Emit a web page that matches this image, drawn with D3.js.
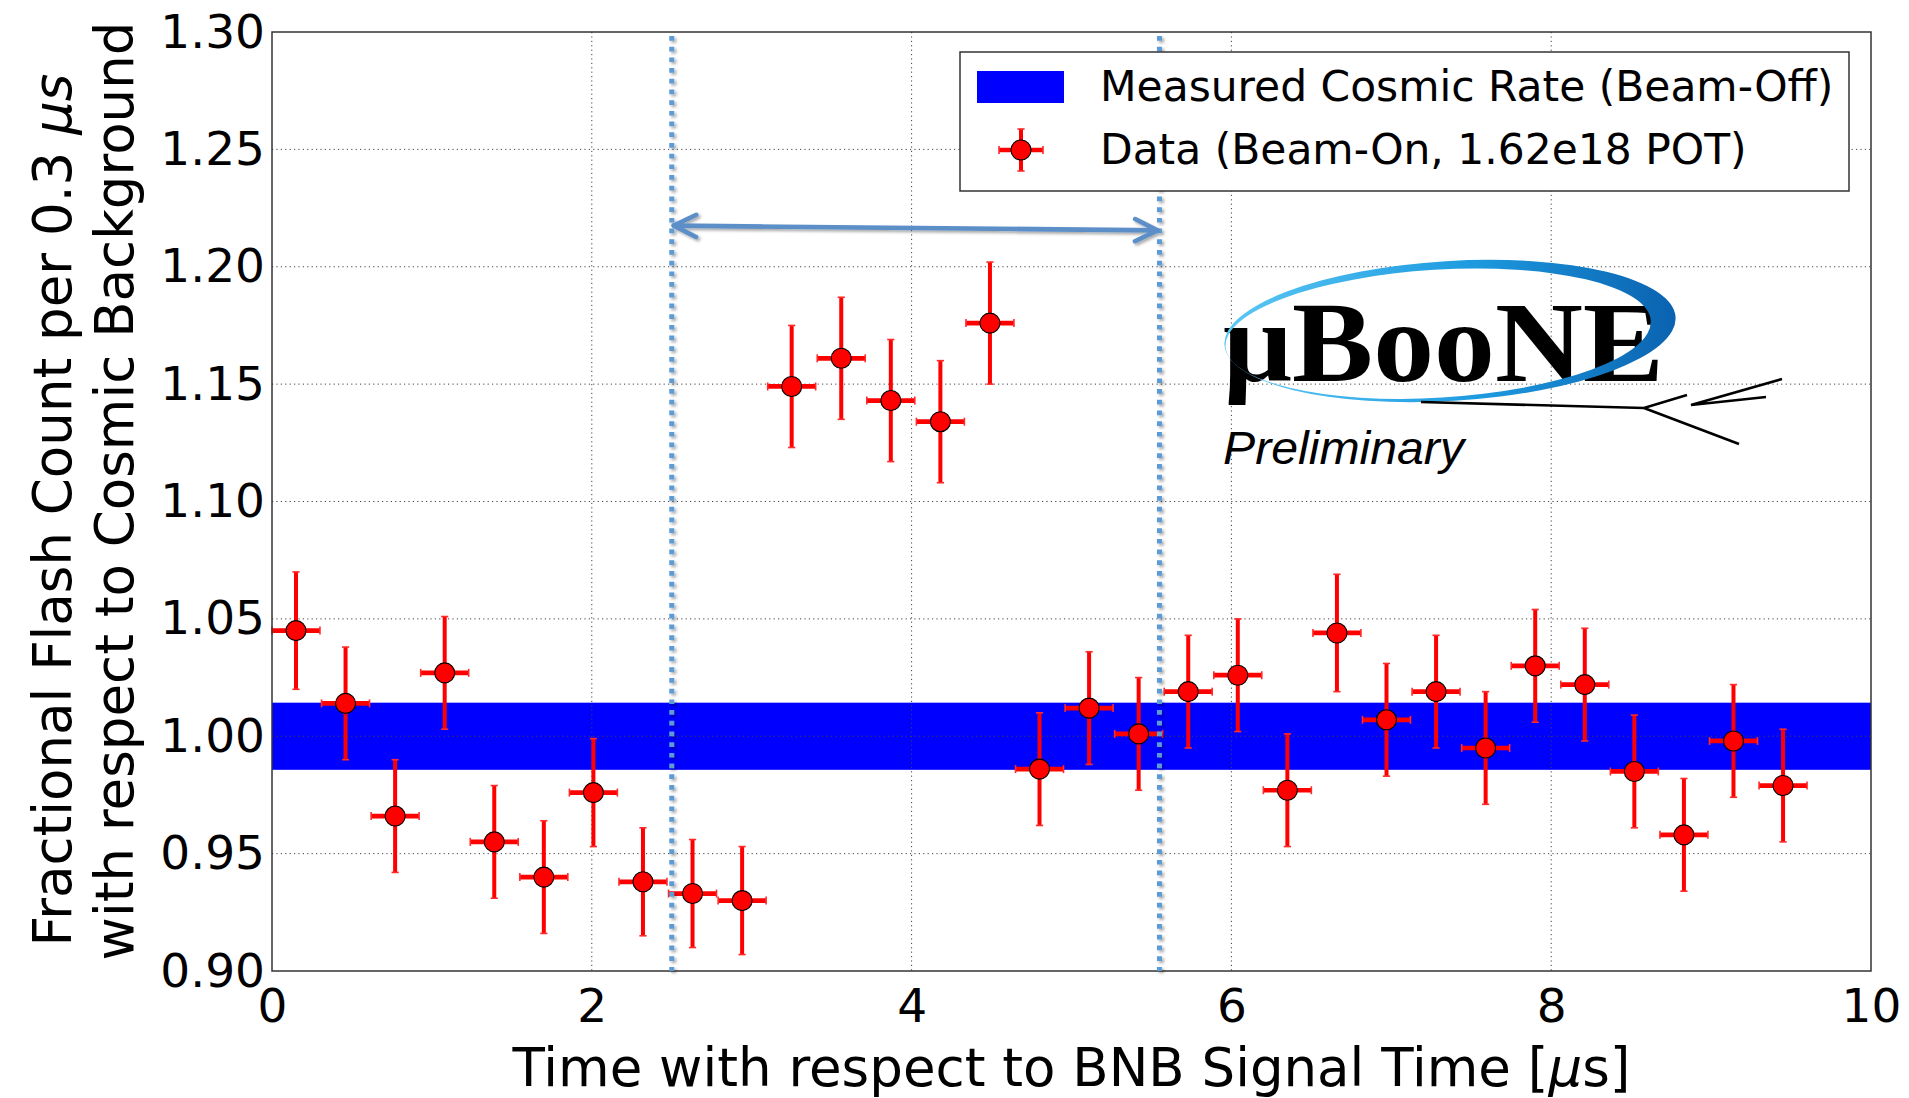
<!DOCTYPE html>
<html>
<head>
<meta charset="utf-8">
<script src="https://cdn.jsdelivr.net/npm/d3@7"></script>
<style>
  body { margin: 0; background: #fff; }
  svg { display: block; font-family: "DejaVu Sans", sans-serif; }
</style>
</head>
<body>
<svg id="chart"></svg>
<script>
// data
const timeUs = [0.15, 0.46, 0.77, 1.08, 1.39, 1.70, 2.01, 2.32, 2.63, 2.94,
                3.25, 3.56, 3.87, 4.18, 4.49, 4.80, 5.11, 5.42, 5.73, 6.04,
                6.35, 6.66, 6.97, 7.28, 7.59, 7.90, 8.21, 8.52, 8.83, 9.14, 9.45];
const flashRatio = [1.045, 1.014, 0.966, 1.027, 0.955, 0.940, 0.976, 0.938, 0.933, 0.930,
                    1.149, 1.161, 1.143, 1.134, 1.176, 0.986, 1.012, 1.001, 1.019, 1.026,
                    0.977, 1.044, 1.007, 1.019, 0.995, 1.030, 1.022, 0.985, 0.958, 0.998, 0.979];
const ratioErr = [0.025, 0.024, 0.024, 0.024, 0.024, 0.024, 0.023, 0.023, 0.023, 0.023,
                  0.026, 0.026, 0.026, 0.026, 0.026, 0.024, 0.024, 0.024, 0.024, 0.024,
                  0.024, 0.025, 0.024, 0.024, 0.024, 0.024, 0.024, 0.024, 0.024, 0.024, 0.024];
const binHalfWidth = 0.15;
const cosmicBand = [0.9857, 1.0143];
const windowEdges = [2.5, 5.55];
const windowArrowY = [1.2175, 1.2155];
const xTicks = [0, 2, 4, 6, 8, 10];
const yTicks = [0.90, 0.95, 1.00, 1.05, 1.10, 1.15, 1.20, 1.25, 1.30];
const legendLabels = ["Measured Cosmic Rate (Beam-Off)", "Data (Beam-On, 1.62e18 POT)"];

const width = 1909, height = 1098;
const margin = {top: 32, right: 38, bottom: 127, left: 272};
const innerW = width - margin.left - margin.right;
const innerH = height - margin.top - margin.bottom;

const svg = d3.select("#chart").attr("width", width).attr("height", height);

const defs = svg.append("defs");
defs.append("filter").attr("id", "shadow")
    .attr("x", "-20%").attr("y", "-20%").attr("width", "140%").attr("height", "140%")
  .append("feDropShadow")
    .attr("dx", 2).attr("dy", 2).attr("stdDeviation", 1.8)
    .attr("flood-color", "#000").attr("flood-opacity", 0.35);
const grad = defs.append("linearGradient").attr("id", "swoosh")
    .attr("x1", "0%").attr("x2", "100%").attr("y1", "0%").attr("y2", "0%");
grad.append("stop").attr("offset", "0%").attr("stop-color", "#5cc8f5");
grad.append("stop").attr("offset", "55%").attr("stop-color", "#1e9be0");
grad.append("stop").attr("offset", "100%").attr("stop-color", "#0a62b0");

const x = d3.scaleLinear().domain([0, 10]).range([0, innerW]);
const y = d3.scaleLinear().domain([0.9, 1.3]).range([innerH, 0]);

const g = svg.append("g").attr("transform", `translate(${margin.left},${margin.top})`);

// cosmic band
g.append("rect")
    .attr("x", x(0)).attr("width", x(10) - x(0))
    .attr("y", y(cosmicBand[1])).attr("height", y(cosmicBand[0]) - y(cosmicBand[1]))
    .attr("fill", "#0000ff");

// grid
g.append("g").selectAll("line").data(xTicks.slice(1, -1)).join("line")
    .attr("x1", d => x(d)).attr("x2", d => x(d)).attr("y1", 0).attr("y2", innerH)
    .attr("stroke", "#444").attr("stroke-width", 1).attr("stroke-dasharray", "1.2,3.2");
g.append("g").selectAll("line").data(yTicks.slice(1, -1)).join("line")
    .attr("y1", d => y(d)).attr("y2", d => y(d)).attr("x1", 0).attr("x2", innerW)
    .attr("stroke", "#444").attr("stroke-width", 1).attr("stroke-dasharray", "1.2,3.2");

// axes (labels only)
const xAxis = g.append("g").attr("transform", `translate(0,${innerH})`)
    .call(d3.axisBottom(x).tickValues(xTicks).tickFormat(d3.format("d")).tickSize(0).tickPadding(18));
const yAxis = g.append("g")
    .call(d3.axisLeft(y).tickValues(yTicks).tickFormat(d3.format(".2f")).tickSize(0).tickPadding(7));
[xAxis, yAxis].forEach(a => {
    a.select(".domain").remove();
    a.selectAll("text").attr("font-size", 47).attr("fill", "#000")
        .attr("font-family", "DejaVu Sans, sans-serif");
});

// data points with error bars
const VBAR = 4, HBAR = 4.7, CAP = 1.6, RADIUS = 10;
const data = timeUs.map((t, i) => ({t: t, v: flashRatio[i], e: ratioErr[i]}));
const pts = g.append("g").selectAll("g").data(data).join("g");
pts.append("line")
    .attr("x1", d => x(d.t - binHalfWidth)).attr("x2", d => x(d.t + binHalfWidth))
    .attr("y1", d => y(d.v)).attr("y2", d => y(d.v))
    .attr("stroke", "#ff0000").attr("stroke-width", HBAR);
pts.append("line")
    .attr("x1", d => x(d.t)).attr("x2", d => x(d.t))
    .attr("y1", d => y(d.v - d.e)).attr("y2", d => y(d.v + d.e))
    .attr("stroke", "#ff0000").attr("stroke-width", VBAR);
[-1, 1].forEach(s => {
    pts.append("line")
        .attr("x1", d => x(d.t) - 3.6).attr("x2", d => x(d.t) + 3.6)
        .attr("y1", d => y(d.v + s * d.e)).attr("y2", d => y(d.v + s * d.e))
        .attr("stroke", "#ff2a2a").attr("stroke-width", CAP);
    pts.append("line")
        .attr("x1", d => x(d.t + s * binHalfWidth)).attr("x2", d => x(d.t + s * binHalfWidth))
        .attr("y1", d => y(d.v) - 4).attr("y2", d => y(d.v) + 4)
        .attr("stroke", "#ff2a2a").attr("stroke-width", CAP);
});
pts.append("circle")
    .attr("cx", d => x(d.t)).attr("cy", d => y(d.v)).attr("r", RADIUS)
    .attr("fill", "#ff0000").attr("stroke", "#000").attr("stroke-width", 1.1);

// frame
g.append("rect").attr("width", innerW).attr("height", innerH)
    .attr("fill", "none").attr("stroke", "#333").attr("stroke-width", 1.5);

// legend
const leg = svg.append("g").attr("transform", "translate(960,52)");
leg.append("rect").attr("width", 889).attr("height", 139)
    .attr("fill", "#fff").attr("stroke", "#333").attr("stroke-width", 1.5);
leg.append("rect").attr("x", 17).attr("y", 19).attr("width", 87).attr("height", 32).attr("fill", "#0000ff");
const lm = leg.append("g").attr("transform", "translate(61,98)");
lm.append("line").attr("x1", -22).attr("x2", 22).attr("stroke", "#ff0000").attr("stroke-width", HBAR);
lm.append("line").attr("y1", -21).attr("y2", 21).attr("stroke", "#ff0000").attr("stroke-width", VBAR);
lm.append("line").attr("x1", -3.6).attr("x2", 3.6).attr("y1", -21).attr("y2", -21).attr("stroke", "#ff2a2a").attr("stroke-width", CAP);
lm.append("line").attr("x1", -3.6).attr("x2", 3.6).attr("y1", 21).attr("y2", 21).attr("stroke", "#ff2a2a").attr("stroke-width", CAP);
lm.append("line").attr("x1", -22).attr("x2", -22).attr("y1", -4).attr("y2", 4).attr("stroke", "#ff2a2a").attr("stroke-width", CAP);
lm.append("line").attr("x1", 22).attr("x2", 22).attr("y1", -4).attr("y2", 4).attr("stroke", "#ff2a2a").attr("stroke-width", CAP);
lm.append("circle").attr("r", RADIUS).attr("fill", "#ff0000").attr("stroke", "#000").attr("stroke-width", 1.1);
leg.selectAll("text.lab").data(legendLabels).join("text").attr("class", "lab")
    .attr("x", 140).attr("y", (d, i) => 49 + i * 63)
    .attr("font-size", 42.4).attr("fill", "#000")
    .text(d => d);

// signal window (dotted lines + arrow), drawn on top like the original overlay
const win = g.append("g").attr("filter", "url(#shadow)");
win.selectAll("line").data(windowEdges).join("line")
    .attr("x1", d => x(d)).attr("x2", d => x(d)).attr("y1", 4).attr("y2", innerH)
    .attr("stroke", "#5b9bd5").attr("stroke-width", 5).attr("stroke-dasharray", "4.7,6");
const ax0 = x(windowEdges[0]) + 2, ay0 = y(windowArrowY[0]);
const ax1 = x(windowEdges[1]) - 2, ay1 = y(windowArrowY[1]);
const arrowCol = "#5b8ec8";
win.append("line").attr("x1", ax0).attr("y1", ay0).attr("x2", ax1).attr("y2", ay1)
    .attr("stroke", arrowCol).attr("stroke-width", 4.6).attr("stroke-linecap", "round");
const ang = Math.atan2(ay1 - ay0, ax1 - ax0);
const head = (tx, ty, dir) => {
    const a = ang + (dir < 0 ? Math.PI : 0);
    const L = 25, spread = 0.46;
    return `M${tx - L * Math.cos(a - spread)},${ty - L * Math.sin(a - spread)}L${tx},${ty}` +
           `L${tx - L * Math.cos(a + spread)},${ty - L * Math.sin(a + spread)}`;
};
win.append("path").attr("d", head(ax1, ay1, 1) + head(ax0, ay0, -1))
    .attr("fill", "none").attr("stroke", arrowCol).attr("stroke-width", 4.6)
    .attr("stroke-linecap", "round").attr("stroke-linejoin", "round");

// axis labels
svg.append("text").attr("x", margin.left + innerW / 2).attr("y", 1086)
    .attr("text-anchor", "middle").attr("font-size", 53)
    .call(t => {
        t.append("tspan").text("Time with respect to BNB Signal Time [");
        t.append("tspan").attr("font-style", "italic").text("μ");
        t.append("tspan").text("s]");
    });
svg.append("text").attr("transform", "translate(71,510) rotate(-90)")
    .attr("text-anchor", "middle").attr("font-size", 53)
    .call(t => {
        t.append("tspan").text("Fractional Flash Count per 0.3 ");
        t.append("tspan").attr("font-style", "italic").text("μs");
    });
svg.append("text").attr("transform", "translate(133,491) rotate(-90)")
    .attr("text-anchor", "middle").attr("font-size", 53)
    .text("with respect to Cosmic Background");

// MicroBooNE logo
const logo = svg.append("g");
logo.append("text").attr("x", 1223).attr("y", 381)
    .attr("font-family", "Liberation Serif, serif").attr("font-weight", "bold")
    .attr("font-size", 114).attr("textLength", 441).attr("lengthAdjust", "spacingAndGlyphs")
    .text("μBooNE");
const ell = (cx, cy, rx, ry) =>
    `M${cx - rx},${cy}A${rx},${ry} 0 1,0 ${cx + rx},${cy}A${rx},${ry} 0 1,0 ${cx - rx},${cy}Z`;
logo.append("path")
    .attr("d", ell(1450, 331, 226, 70) + ell(1438, 333, 213, 64))
    .attr("fill-rule", "evenodd").attr("fill", "url(#swoosh)")
    .attr("transform", "rotate(-3.5,1450,331)");
logo.append("path")
    .attr("d", "M1421,402L1644,408L1687,395M1644,408L1739,444M1782,379L1691,405L1766,397")
    .attr("fill", "none").attr("stroke", "#000").attr("stroke-width", 2.6)
    .attr("stroke-linejoin", "miter");
logo.append("text").attr("x", 1223).attr("y", 464)
    .attr("font-family", "Liberation Sans, Arial, sans-serif").attr("font-style", "italic")
    .attr("font-size", 46).attr("textLength", 241).attr("lengthAdjust", "spacingAndGlyphs")
    .text("Preliminary");
</script>
</body>
</html>
